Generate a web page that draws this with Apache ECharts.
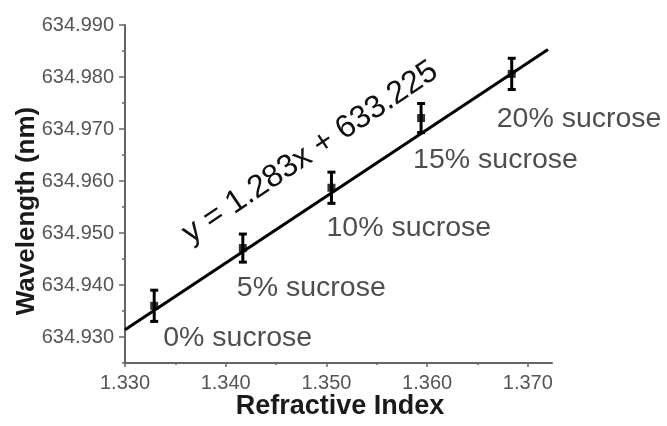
<!DOCTYPE html>
<html>
<head>
<meta charset="utf-8">
<script src="https://cdn.jsdelivr.net/npm/echarts@6/dist/echarts.min.js"></script>
<style>
  html, body { margin: 0; padding: 0; background: #fff; }
  #chart { width: 667px; height: 426px; }
</style>
</head>
<body>
<div id="chart"></div>
<script>
// Measured resonance wavelength versus refractive index of sucrose solutions
const sampleNames = ['0% sucrose', '5% sucrose', '10% sucrose', '15% sucrose', '20% sucrose'];
const refractiveIndex = [1.3329, 1.3417, 1.3505, 1.3594, 1.3684];
const wavelength = [634.9360, 634.9471, 634.9587, 634.9721, 634.9806];
const wavelengthError = [0.0030, 0.0027, 0.0030, 0.0028, 0.0030];

// Linear fit y = 1.283x + 633.225
const fitSlope = 1.283;
const fitIntercept = 633.225;
const fitRange = [1.330, 1.372];

const xTicks = [1.330, 1.340, 1.350, 1.360, 1.370];
const xMinorTicks = [1.335, 1.345, 1.355, 1.365];
const yTicks = [634.930, 634.940, 634.950, 634.960, 634.970, 634.980, 634.990];
const yMinorTicks = [634.925, 634.935, 634.945, 634.955, 634.965, 634.975, 634.985];

// label placement relative to each point (px)
const labelOffsets = [[9, 32], [-6, 40], [-5, 40], [-8, 42], [-15, 45]];

const xMin = 1.330, xMax = 1.3724;
const yMin = 634.925, yMax = 634.990;

const axisColor = '#666';
const labelColor = '#555';
const fontFamily = 'Liberation Sans, Arial, sans-serif';

const chart = echarts.init(document.getElementById('chart'), null, { renderer: 'canvas' });

const fitLine = fitRange.map(x => [x, fitSlope * x + fitIntercept]);

const pointData = refractiveIndex.map((x, i) => ({
  value: [x, wavelength[i]],
  name: sampleNames[i],
  label: { offset: labelOffsets[i] }
}));

const errorData = refractiveIndex.map((x, i) => [x, wavelength[i], wavelengthError[i]]);

function baseX(extra) {
  return Object.assign({
    type: 'value', min: xMin, max: xMax, gridIndex: 0, position: 'bottom',
    splitLine: { show: false }
  }, extra);
}
function baseY(extra) {
  return Object.assign({
    type: 'value', min: yMin, max: yMax, gridIndex: 0, position: 'left',
    splitLine: { show: false }
  }, extra);
}

const option = {
  animation: false,
  backgroundColor: '#fff',
  grid: { left: 125, right: 115, top: 25, bottom: 63, containLabel: false },
  xAxis: [
    baseX({
      axisLine: { show: true, lineStyle: { color: axisColor, width: 2 } },
      axisTick: { show: true, customValues: xTicks, length: 4, lineStyle: { color: axisColor, width: 1.5 } },
      axisLabel: {
        customValues: xTicks, margin: 10, color: labelColor, fontSize: 20, fontFamily: fontFamily,
        formatter: v => v.toFixed(3)
      }
    }),
    baseX({
      axisLine: { show: false },
      axisTick: { show: true, customValues: xMinorTicks, length: 2, lineStyle: { color: axisColor, width: 1.5 } },
      axisLabel: { show: false }
    })
  ],
  yAxis: [
    baseY({
      axisLine: { show: true, lineStyle: { color: axisColor, width: 2 } },
      axisTick: { show: true, customValues: yTicks, length: 6, lineStyle: { color: axisColor, width: 1.5 } },
      axisLabel: {
        customValues: yTicks, margin: 11, color: labelColor, fontSize: 20, fontFamily: fontFamily,
        formatter: v => v.toFixed(3)
      }
    }),
    baseY({
      axisLine: { show: false },
      axisTick: { show: true, customValues: yMinorTicks, length: 3, lineStyle: { color: axisColor, width: 1.5 } },
      axisLabel: { show: false }
    })
  ],
  series: [
    {
      type: 'line',
      data: fitLine,
      symbol: 'none',
      lineStyle: { color: '#000', width: 3 },
      z: 3
    },
    {
      type: 'custom',
      data: errorData,
      renderItem: function (params, api) {
        const x = api.value(0), y = api.value(1), e = api.value(2);
        const top = api.coord([x, y + e]);
        const bot = api.coord([x, y - e]);
        const cap = 4;
        const style = { stroke: '#000', lineWidth: 3 };
        return {
          type: 'group',
          children: [
            { type: 'line', shape: { x1: top[0], y1: top[1], x2: bot[0], y2: bot[1] }, style: style },
            { type: 'line', shape: { x1: top[0] - cap, y1: top[1], x2: top[0] + cap, y2: top[1] }, style: style },
            { type: 'line', shape: { x1: bot[0] - cap, y1: bot[1], x2: bot[0] + cap, y2: bot[1] }, style: style }
          ]
        };
      },
      z: 4
    },
    {
      type: 'scatter',
      data: pointData,
      symbol: 'rect',
      symbolSize: 8,
      itemStyle: { color: '#000' },
      label: {
        show: true,
        position: 'inside',
        align: 'left',
        verticalAlign: 'middle',
        formatter: p => p.name,
        color: '#222',
        fontSize: 28.5,
        fontFamily: fontFamily
      },
      z: 5
    }
  ]
};

chart.setOption(option);

// Axis titles and the fit equation
const eqPos = chart.convertToPixel({ xAxisIndex: 0, yAxisIndex: 0 }, [1.3484, 634.9655]);
chart.setOption({
  graphic: [
    {
      type: 'text', x: 27, y: 211, rotation: Math.PI / 2,
      style: {
        text: 'Wavelength (nm)', fill: '#1a1a1a', font: 'bold 26px ' + fontFamily,
        textAlign: 'center', textVerticalAlign: 'middle'
      }
    },
    {
      type: 'text', x: 340, y: 407,
      style: {
        text: 'Refractive Index', fill: '#1a1a1a', font: 'bold 27px ' + fontFamily,
        textAlign: 'center', textVerticalAlign: 'middle'
      }
    },
    {
      type: 'text', x: eqPos[0], y: eqPos[1], rotation: 34 * Math.PI / 180,
      style: {
        text: 'y = ' + fitSlope + 'x + ' + fitIntercept, fill: '#111', font: '32px ' + fontFamily,
        textAlign: 'center', textVerticalAlign: 'middle'
      }
    }
  ]
});
</script>
</body>
</html>
